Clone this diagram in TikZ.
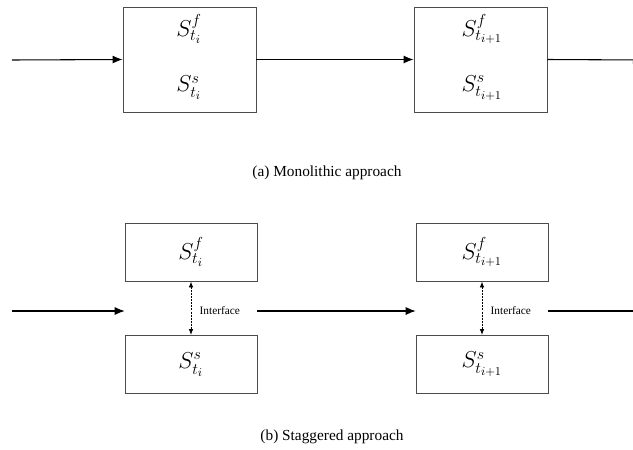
\documentclass[tikz,border=0pt]{standalone}
\usepackage{fontspec}
\setmainfont{Liberation Serif}
\DeclareMathSizes{16}{16}{12}{9}
\usetikzlibrary{arrows.meta}
\begin{document}
\begin{tikzpicture}[x=0.75pt,y=-0.75pt,
  box/.style={draw=black!70, line width=0.7pt, inner sep=0pt},
  state/.style={font=\fontsize{16}{19}\selectfont},
  flow/.style={-{Latex[length=7.5pt,width=6pt]}, line width=0.8pt},
  link/.style={{Latex[length=4.5pt,width=3.5pt]}-{Latex[length=4.5pt,width=3.5pt]}, line width=0.7pt, dash pattern=on 1.5pt off 0.8pt},
  caption/.style={font=\fontsize{11.5}{14}\selectfont}]
\useasboundingbox (0,0) rectangle (633,450);

% (a) monolithic
\node [box, minimum width=99.75pt, minimum height=78.75pt] (mono1) at (189.5,59.5) {};
\node [box, minimum width=99.75pt, minimum height=78.75pt] (mono2) at (480.5,59.5) {};
\node [state] (f1) at (189,29) {$S^f_{t_i}$};
\node [state] (s1) at (189,88) {$S^s_{t_i}$};
\node [state] (f2) at (482,29) {$S^f_{t_{i+1}}$};
\node [state] (s2) at (482,88) {$S^s_{t_{i+1}}$};
\coordinate (inA) at (12,60);
\coordinate (outA) at (643,60);
\draw [flow] (inA) -- (mono1.west);
\draw [flow] (mono1.east) -- (mono2.west);
\draw [flow] (mono2.east) -- (outA);
\node [caption] (capA) at (327,173) {(a) Monolithic approach};

% (b) staggered
\node [box, state, minimum width=99pt, minimum height=43.5pt] (fl1) at (191,252) {$S^f_{t_i}$};
\node [box, state, minimum width=99pt, minimum height=43.5pt] (so1) at (191,364.5) {$S^s_{t_i}$};
\node [box, state, minimum width=99pt, minimum height=43.5pt] (fl2) at (482,252) {$S^f_{t_{i+1}}$};
\node [box, state, minimum width=99pt, minimum height=43.5pt] (so2) at (482,364.5) {$S^s_{t_{i+1}}$};
\node [minimum width=99pt, inner sep=0pt] (mid1) at (191,311) {};
\node [minimum width=99pt, inner sep=0pt] (mid2) at (482,311) {};
\draw [link] (fl1.south) -- (so1.north);
\draw [link] (fl2.south) -- (so2.north);
\node [font=\fontsize{8.5}{10}\selectfont, anchor=west] (if1) at (195,311) {Interface};
\node [font=\fontsize{8.5}{10}\selectfont, anchor=west] (if2) at (486,311) {Interface};
\coordinate (inB) at (12,311);
\coordinate (outB) at (643,311);
\draw [flow] (inB) -- (mid1.west);
\draw [flow] (mid1.east) -- (mid2.west);
\draw [flow] (mid2.east) -- (outB);
\node [caption] (capB) at (332,437) {(b) Staggered approach};
\end{tikzpicture}
\end{document}
